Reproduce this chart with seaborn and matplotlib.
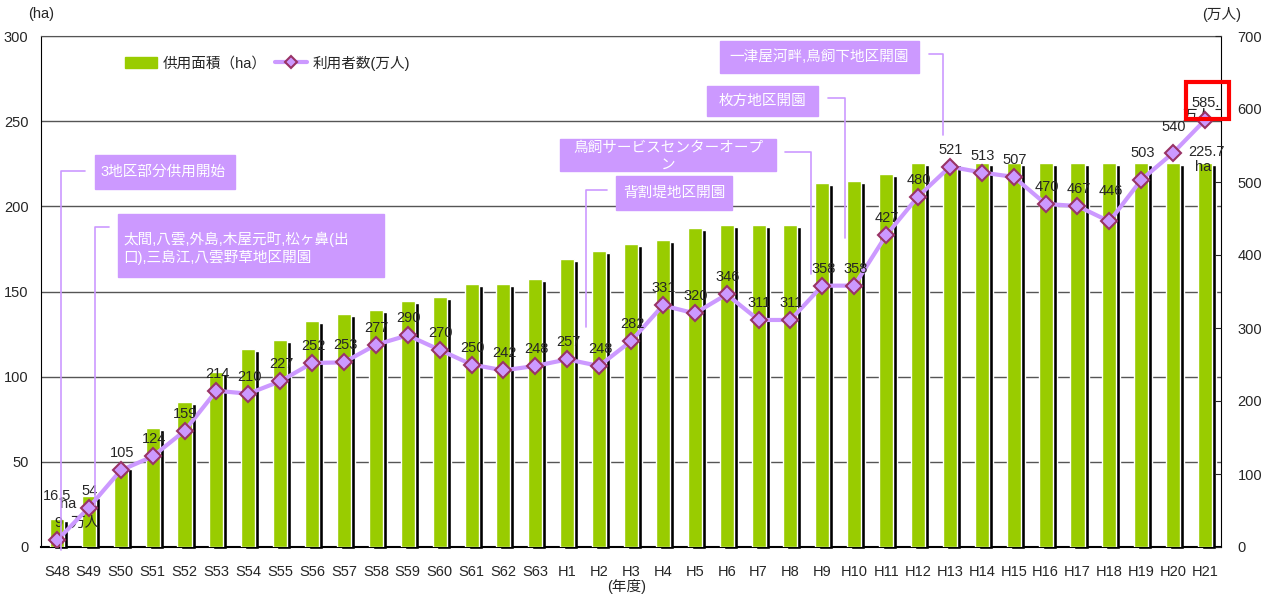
import numpy as np
import pandas as pd
import seaborn as sns
import matplotlib.pyplot as plt
from matplotlib.patches import Rectangle, Patch
from matplotlib.lines import Line2D
from matplotlib.transforms import ScaledTranslation

# fiscal years (昭和 S / 平成 H)
years = ["S48", "S49", "S50", "S51", "S52", "S53", "S54", "S55", "S56", "S57",
         "S58", "S59", "S60", "S61", "S62", "S63", "H1", "H2", "H3", "H4",
         "H5", "H6", "H7", "H8", "H9", "H10", "H11", "H12", "H13", "H14",
         "H15", "H16", "H17", "H18", "H19", "H20", "H21"]

# 供用面積 (ha)
area_ha = [16.5, 30, 47, 70, 85, 103, 116, 121.5, 132.5, 137, 139, 144.5, 147,
           154.5, 154.5, 157.5, 169, 174, 178, 180, 187, 189, 189, 189, 213.5,
           215, 219, 225.7, 225.7, 225.7, 225.7, 225.7, 225.7, 225.7, 225.7,
           225.7, 225.7]

# 利用者数 (万人)
visitors = [9, 54, 105, 124, 159, 214, 210, 227, 252, 253, 277, 290, 270, 250,
            242, 248, 257, 248, 282, 331, 320, 346, 311, 311, 358, 358, 427,
            480, 521, 513, 507, 470, 467, 446, 503, 540, 585]

GREEN = "#99CC00"
PURPLE = "#CC99FF"
EDGE = "#993366"

W, H = 1262, 596


def fx(x):
    return x / W


def fy(y):
    return 1 - y / H


sns.set_style("white")
plt.rcParams['font.family'] = ['Liberation Sans', 'Noto Sans CJK JP']

fig = plt.figure(figsize=(W / 100, H / 100), dpi=100)
ax = fig.add_axes([fx(41), fy(547), (1221 - 41) / W, 511 / H])

df = pd.DataFrame({"year": years, "area": area_ha, "visitors": visitors})

# black shadow bars, shifted right / down
sns.barplot(data=df, x="year", y="area", color="black", width=0.44,
            saturation=1, ax=ax, zorder=2)
shift = ScaledTranslation(0.04, -0.02, fig.dpi_scale_trans)
for p in ax.patches:
    p.set_transform(ax.transData + shift)
    p.set_clip_on(False)
sns.barplot(data=df, x="year", y="area", color=GREEN, width=0.44,
            saturation=1, ax=ax, zorder=3)

ax.set_ylim(0, 300)
ax.set_yticks(range(0, 301, 50))
ax.set_xlim(-0.5, len(years) - 0.5)
ax.set_xlabel("")
ax.set_ylabel("")
ax.set_axisbelow(True)
ax.yaxis.grid(True, color="#555555", lw=1)
ax.set_xticks(np.arange(-0.5, len(years), 1), minor=True)
ax.tick_params(axis="x", which="major", length=0, labelsize=10.5, pad=13)
ax.tick_params(axis="x", which="minor", direction="in", length=4, color="black")
ax.tick_params(axis="y", direction="in", length=0, labelsize=10.5, pad=9)
for s in ["left", "right", "bottom"]:
    ax.spines[s].set_color("black")
ax.spines["bottom"].set_linewidth(1.5)
ax.spines["top"].set_color("#555555")

ax2 = ax.twinx()
sns.lineplot(x=np.arange(len(years)), y=visitors, ax=ax2, color=PURPLE, lw=3,
             marker="D", markersize=8, markerfacecolor=PURPLE,
             markeredgecolor=EDGE, markeredgewidth=1.5, zorder=5)
ax2.set_ylim(0, 700)
ax2.set_yticks(range(0, 701, 100))
ax2.set_ylabel("")
ax2.tick_params(axis="y", direction="in", length=4, labelsize=10.5, pad=12)
ax.set_xlim(-0.5, len(years) - 0.5)
for s in ax2.spines.values():
    s.set_visible(False)

# value labels for visitors
raised = {"H18": 30, "H19": 27, "H20": 26}
for i, (yr, v) in enumerate(zip(years, visitors)):
    txt = "585." if yr == "H21" else str(v)
    dy = raised.get(yr, 17)
    ax2.annotate(txt, (i, v), xytext=(1, dy), textcoords="offset pixels",
                 ha="center", va="center", fontsize=10.5, zorder=6)

# unit labels on first and last values
ax2.annotate("万人", (0, visitors[0]), xytext=(28, 18), textcoords="offset pixels",
             ha="center", va="center", fontsize=10.5)
ax2.annotate("万人", (len(years) - 1, visitors[-1]), xytext=(-8, 4),
             textcoords="offset pixels", ha="center", va="center", fontsize=10.5)
ax.annotate("16.5", (0, area_ha[0]), xytext=(0, 23), textcoords="offset pixels",
            ha="center", va="center", fontsize=10.5)
ax.annotate("ha", (0, area_ha[0]), xytext=(11, 15), textcoords="offset pixels",
            ha="center", va="center", fontsize=10.5)
ax.annotate("225.7", (len(years) - 1, area_ha[-1]), xytext=(1, 11),
            textcoords="offset pixels", ha="center", va="center", fontsize=10.5)
ax.annotate("ha", (len(years) - 1, area_ha[-1]), xytext=(-2, -4),
            textcoords="offset pixels", ha="center", va="center", fontsize=10.5,
            zorder=6)

# legend
handles = [Patch(color=GREEN),
           Line2D([], [], color=PURPLE, lw=3, marker="D", markersize=6,
                  markerfacecolor=PURPLE, markeredgecolor=EDGE, markeredgewidth=1.5)]
fig.legend(handles, ["供用面積（ha）", "利用者数(万人)"], loc="center left",
           bbox_to_anchor=(fx(112), fy(63)), ncol=2, frameon=False, fontsize=10.5,
           handlelength=2.2, handletextpad=0.35, columnspacing=0.6)

# axis unit texts
fig.text(fx(41), fy(14), "(ha)", ha="center", va="center", fontsize=10.5)
fig.text(fx(1222), fy(14), "(万人)", ha="center", va="center", fontsize=10.5)
fig.text(fx(627), fy(586), "(年度)", ha="center", va="center", fontsize=10.5)

# event callouts: box (x0, y0, x1, y1), text, leader line
callouts = [
    ((95, 155, 235, 189), "3地区部分供用開始", "left",
     [(85, 171), (61, 171), (61, 550)]),
    ((118, 214, 384, 277), "太間,八雲,外島,木屋元町,松ヶ鼻(出\n口),三島江,八雲野草地区開園", "left",
     [(109, 227), (95, 227), (95, 505)]),
    ((560, 139, 776, 171), "鳥飼サービスセンターオープ\nン", "center",
     [(785, 152), (811, 152), (811, 274)]),
    ((616, 176, 732, 210), "背割堤地区開園", "center",
     [(607, 190), (586, 190), (586, 327)]),
    ((707, 86, 818, 116), "枚方地区開園", "center",
     [(828, 98), (845, 98), (845, 238)]),
    ((720, 41, 919, 73), "一津屋河畔,鳥飼下地区開園", "center",
     [(929, 54), (943, 54), (943, 135)]),
]
for (x0, y0, x1, y1), label, align, pts in callouts:
    rect = Rectangle((fx(x0), fy(y1)), (x1 - x0) / W, (y1 - y0) / H,
                     transform=fig.transFigure, color=PURPLE, zorder=10)
    fig.add_artist(rect)
    tx = x0 + 5 if align == "left" else (x0 + x1) / 2
    ty = (y0 + y1) / 2 if "\n" not in label else y0 + (y1 - y0) * 0.55
    t = fig.text(fx(tx), fy(ty), label, ha=align, va="center", color="white",
                 fontsize=10.5, linespacing=1.25, zorder=11)
    t.set_clip_path(rect)
    fig.add_artist(Line2D([fx(p[0]) for p in pts], [fy(p[1]) for p in pts],
                          transform=fig.transFigure, color=PURPLE, lw=1.2, zorder=9))

# red highlight around the latest value
fig.add_artist(Rectangle((fx(1186), fy(119)), 43 / W, 37 / H, transform=fig.transFigure,
                         fill=False, edgecolor="red", lw=3, zorder=12))

fig.savefig("out.png", dpi=100)
